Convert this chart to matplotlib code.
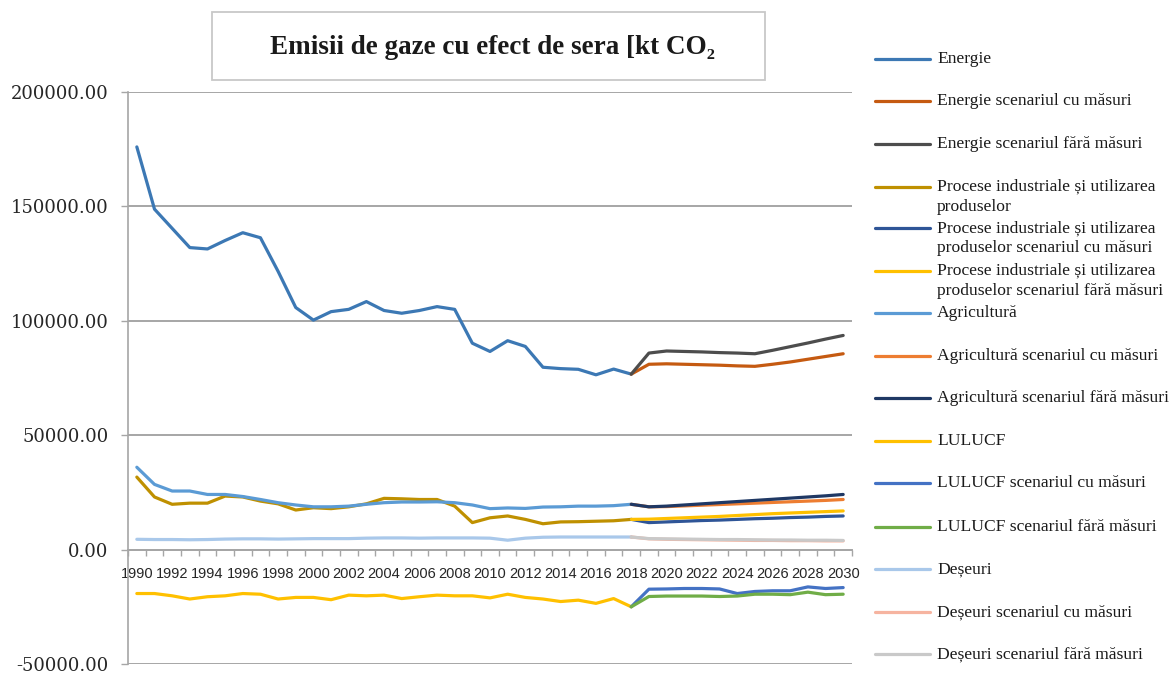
import numpy as np
import matplotlib
matplotlib.use("Agg")
import matplotlib.pyplot as plt
from matplotlib.lines import Line2D
from matplotlib.patches import Rectangle

# ---------------- data ----------------
years = list(range(1990, 2031))
hist_years = list(range(1990, 2019))
proj_years = list(range(2018, 2031))

energie = [176000, 148800, 140400, 132000, 131400, 135100, 138500, 136300, 121600, 105800,
           100300, 104000, 105000, 108400, 104500, 103300, 104500, 106200, 105000, 90200,
           86600, 91300, 88800, 79700, 79100, 78800, 76400, 78900, 76700]
energie_cu = [76700, 81000, 81200, 81000, 80800, 80600, 80300, 80100, 81000, 82000, 83200, 84400, 85600]
energie_fara = [76700, 85900, 86800, 86600, 86400, 86100, 85900, 85600, 87100, 88700, 90300, 92000, 93600]

procese = [31700, 23000, 19800, 20300, 20300, 23400, 23000, 21200, 20000, 17300,
           18300, 17900, 18700, 20000, 22400, 22200, 21900, 21900, 19000, 11800,
           13900, 14700, 13200, 11300, 12100, 12200, 12400, 12600, 13200]
procese_cu = [13200, 11800, 12100, 12400, 12700, 12900, 13200, 13500, 13700, 14000, 14200, 14500, 14700]
procese_fara = [13200, 13300, 13600, 13900, 14200, 14500, 14900, 15300, 15700, 16000, 16300, 16600, 16900]

agricultura = [36000, 28500, 25600, 25600, 24100, 24100, 23200, 21900, 20500, 19500,
               18700, 18700, 19000, 19800, 20500, 20800, 20800, 20900, 20500, 19500,
               17900, 18200, 18000, 18600, 18700, 19000, 19000, 19200, 19800]
agricultura_cu = [19800, 18700, 18800, 19100, 19400, 19700, 20000, 20300, 20600, 20900, 21200, 21500, 21900]
agricultura_fara = [19800, 18700, 19000, 19500, 20000, 20500, 21000, 21500, 22000, 22500, 23000, 23500, 24100]

lulucf = [-19200, -19200, -20200, -21600, -20600, -20200, -19200, -19500, -21600, -20900,
          -20900, -21900, -19900, -20200, -19900, -21400, -20600, -19900, -20200, -20200,
          -21100, -19500, -20900, -21600, -22700, -22100, -23500, -21400, -25000]
lulucf_cu = [-25000, -17300, -17200, -17000, -17000, -17200, -19200, -18300, -18000, -18000, -16300, -17000, -16600]
lulucf_fara = [-25000, -20500, -20300, -20300, -20300, -20500, -20300, -19500, -19500, -19700, -18600, -19700, -19500]

deseuri = [4500, 4400, 4400, 4300, 4400, 4600, 4700, 4700, 4600, 4700,
           4800, 4800, 4800, 5000, 5100, 5100, 5000, 5100, 5100, 5100,
           5000, 4100, 5000, 5400, 5500, 5500, 5500, 5500, 5500]
deseuri_cu = [5500, 4700, 4500, 4400, 4300, 4200, 4100, 4000, 4000, 3900, 3900, 3800, 3800]
deseuri_fara = [5500, 4800, 4700, 4600, 4500, 4400, 4400, 4300, 4200, 4200, 4100, 4100, 4000]

labels = ["Energie", "Energie scenariul cu măsuri", "Energie scenariul fără măsuri",
          "Procese industriale și utilizarea\nproduselor",
          "Procese industriale și utilizarea\nproduselor scenariul cu măsuri",
          "Procese industriale și utilizarea\nproduselor scenariul fără măsuri",
          "Agricultură", "Agricultură scenariul cu măsuri", "Agricultură scenariul fără măsuri",
          "LULUCF", "LULUCF scenariul cu măsuri", "LULUCF scenariul fără măsuri",
          "Deșeuri", "Deșeuri scenariul cu măsuri", "Deșeuri scenariul fără măsuri"]

colors = ["#3C78B4", "#C55A11", "#4D4D4D",
          "#BF9000", "#2F5597", "#FFC000",
          "#5B9BD5", "#ED7D31", "#1F3864",
          "#FFC000", "#4472C4", "#70AD47",
          "#A9C8EA", "#F6B4A0", "#C9C9C9"]

series = [(hist_years, energie), (proj_years, energie_cu), (proj_years, energie_fara),
          (hist_years, procese), (proj_years, procese_cu), (proj_years, procese_fara),
          (hist_years, agricultura), (proj_years, agricultura_cu), (proj_years, agricultura_fara),
          (hist_years, lulucf), (proj_years, lulucf_cu), (proj_years, lulucf_fara),
          (hist_years, deseuri), (proj_years, deseuri_cu), (proj_years, deseuri_fara)]

title = "Emisii de gaze cu efect de sera [kt CO₂"

# ---------------- figure ----------------
W, H = 1173, 675
fig = plt.figure(figsize=(W / 100, H / 100), dpi=100)
ax = fig.add_axes([128 / W, 1 - 664 / H, 724 / W, 572 / H])

draw_order = [12, 13, 14, 9, 10, 11, 3, 4, 5, 6, 7, 8, 0, 1, 2]
for i in draw_order:
    xs, ys = series[i]
    xi = np.array(xs) - years[0]
    ax.plot(xi, ys, color=colors[i], lw=2.3, solid_capstyle="round", solid_joinstyle="round", zorder=3 + i * 0.01)

grid_c = "#A6A6A6"
ax.set_xlim(-0.5, len(years) - 0.5)
ax.set_ylim(-50000, 200000)
ax.set_yticks(np.arange(-50000, 200001, 50000))
ax.yaxis.set_major_formatter(matplotlib.ticker.FuncFormatter(lambda v, p: f"{v:.2f}"))
ax.grid(axis="y", color=grid_c, lw=1.4, zorder=1)
ax.set_axisbelow(True)

ax.spines["top"].set_visible(False)
ax.spines["right"].set_visible(False)
ax.spines["left"].set_color(grid_c)
ax.spines["left"].set_linewidth(1.2)
ax.spines["bottom"].set_position(("data", 0))
ax.spines["bottom"].set_color(grid_c)
ax.spines["bottom"].set_linewidth(1.4)

ax.set_xticks(np.arange(0, len(years), 2))
ax.set_xticklabels([str(y) for y in years[::2]])
ax.set_xticks(np.arange(-0.5, len(years), 1), minor=True)
ax.tick_params(axis="x", which="major", length=0, pad=12.5, labelsize=10.5, labelcolor="#262626")
ax.tick_params(axis="x", which="minor", length=4.5, width=1.0, color=grid_c, direction="out")
ax.tick_params(axis="y", which="major", length=5, width=1.0, color=grid_c, pad=9, labelsize=13,
               labelcolor="#262626")
for t in ax.get_xticklabels():
    t.set_fontfamily("Liberation Sans")
for t in ax.get_yticklabels():
    t.set_fontfamily("DejaVu Serif")

# title box
fig.add_artist(Rectangle((212 / W, 1 - 80 / H), 553 / W, 68 / H, transform=fig.transFigure,
                         fill=False, ec="#C8C8C8", lw=1.3))
fig.text(492 / W, 1 - 48 / H, title, ha="center", va="center", fontsize=19.5, fontweight="bold",
         family=["Liberation Serif", "DejaVu Serif"], color="#1a1a1a")

# legend (manual, Excel style: handle aligned with first text line)
leg_y = [59, 101, 144, 186.7, 228.3, 270.7, 313.3, 355.7, 397.7, 441, 483.3, 527.3, 569.3, 612.3, 654]
for lab, c, y in zip(labels, colors, leg_y):
    fig.add_artist(Line2D([875 / W, 930 / W], [1 - y / H, 1 - y / H], transform=fig.transFigure,
                          color=c, lw=2.3, solid_capstyle="round"))
    for k, line in enumerate(lab.split("\n")):
        fig.text(937 / W, 1 - (y + 20 * k) / H, line, ha="left", va="center", fontsize=12.6,
                 family=["Liberation Serif", "DejaVu Serif"], color="#1a1a1a")

fig.savefig("out.png", dpi=100)
